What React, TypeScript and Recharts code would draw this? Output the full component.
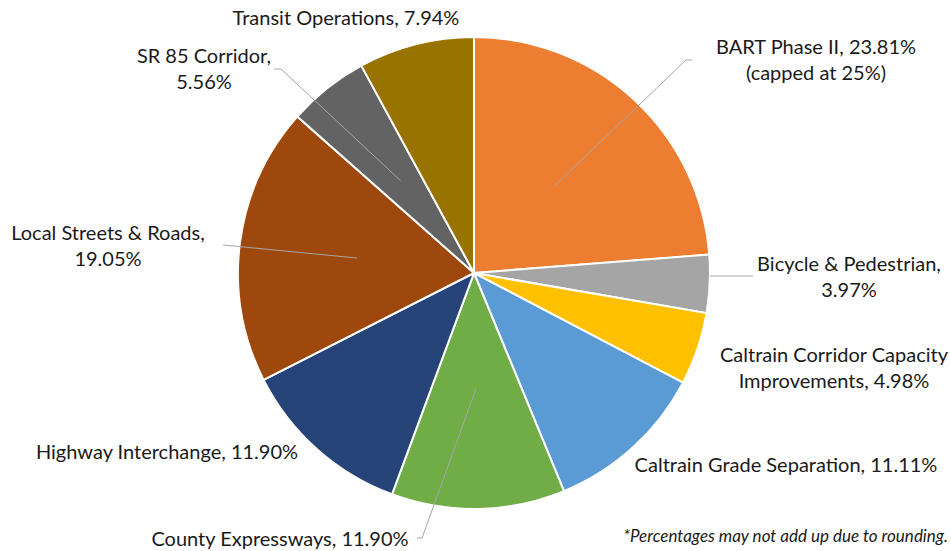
import React from 'react';
import { PieChart, Pie, Cell } from 'recharts';

// program shares (percent), clockwise from 12 o'clock
const CATEGORIES = [
  'BART Phase II',
  'Bicycle & Pedestrian',
  'Caltrain Corridor Capacity Improvements',
  'Caltrain Grade Separation',
  'County Expressways',
  'Highway Interchange',
  'Local Streets & Roads',
  'SR 85 Corridor',
  'Transit Operations',
];
const SHARES = [23.81, 3.97, 4.98, 11.11, 11.9, 11.9, 19.05, 5.56, 7.94];
const LABEL_TEXT = [
  ['BART Phase II, 23.81%', '(capped at 25%)'],
  ['Bicycle & Pedestrian,', '3.97%'],
  ['Caltrain Corridor Capacity', 'Improvements, 4.98%'],
  ['Caltrain Grade Separation, 11.11%'],
  ['County Expressways, 11.90%'],
  ['Highway Interchange, 11.90%'],
  ['Local Streets & Roads,', '19.05%'],
  ['SR 85 Corridor,', '5.56%'],
  ['Transit Operations, 7.94%'],
];
const COLORS = ['#ED7D31', '#A5A5A5', '#FFC000', '#5B9BD5', '#70AD47', '#264478', '#9E480E', '#636363', '#997300'];

const chartData = CATEGORIES.map((name, i) => ({ name, value: SHARES[i] }));

// where each label sits (text centre x, first baseline y) and its leader line, if any
// flat: leader runs level with the label to the pie edge
const LABEL_LAYOUT: Array<{ x: number; y: number; leader?: { r: number; x: number; y: number; stub: number; flat?: boolean } }> = [
  { x: 816, y: 54, leader: { r: 0.5, x: 692, y: 60, stub: -6 } },
  { x: 849, y: 271, leader: { r: 1.0, x: 753, y: 276, stub: 0, flat: true } },
  { x: 834, y: 362 },
  { x: 786, y: 472 },
  { x: 280, y: 546, leader: { r: 0.49, x: 417, y: 538, stub: 5 } },
  { x: 167, y: 459 },
  { x: 108, y: 240, leader: { r: 0.5, x: 223, y: 245, stub: 0 } },
  { x: 204, y: 63, leader: { r: 0.5, x: 274, y: 69, stub: 7 } },
  { x: 346, y: 25 },
];

const RAD = Math.PI / 180;
const FONT = "Lato, 'Noto Sans', sans-serif";

const renderLabel = (props: any) => {
  const { cx, cy, midAngle, outerRadius, index } = props;
  const layout = LABEL_LAYOUT[index];
  const lines = LABEL_TEXT[index];
  let leader = null;
  if (layout.leader) {
    const l = layout.leader;
    const r = outerRadius * l.r;
    let px = cx + r * Math.cos(-midAngle * RAD);
    let py = cy + r * Math.sin(-midAngle * RAD);
    if (l.flat) {
      // meet the arc at the label's height
      py = l.y;
      px = cx + Math.sqrt(Math.max(0, r * r - (py - cy) * (py - cy)));
    }
    leader = (
      <polyline
        points={`${l.x},${l.y} ${l.x + l.stub},${l.y} ${px},${py}`}
        fill="none"
        stroke="#A6A6A6"
        strokeWidth={1}
      />
    );
  }
  return (
    <g key={`lbl-${index}`}>
      {leader}
      <text x={layout.x} y={layout.y} textAnchor="middle" fill="#1a1a1a" fontSize={20} fontFamily={FONT}>
        {lines.map((t, i) => (
          <tspan key={i} x={layout.x} dy={i === 0 ? 0 : 25.5}>{t}</tspan>
        ))}
      </text>
    </g>
  );
};

export default function App() {
  document.body.style.margin = '0';
  return (
    <div style={{ width: 951, height: 551, background: '#fff', position: 'relative' }}>
      <PieChart width={951} height={551} margin={{ top: 0, right: 0, bottom: 0, left: 0 }}>
        <Pie
          data={chartData}
          dataKey="value"
          nameKey="name"
          cx={474}
          cy={273}
          outerRadius={236}
          startAngle={90}
          endAngle={-270}
          stroke="#fff"
          strokeWidth={2}
          label={renderLabel}
          labelLine={false}
          isAnimationActive={false}
        >
          {chartData.map((entry, index) => (
            <Cell key={`cell-${index}`} fill={COLORS[index]} />
          ))}
        </Pie>
      </PieChart>
      <div
        style={{
          position: 'absolute',
          right: 3,
          top: 526,
          fontFamily: FONT,
          fontStyle: 'italic',
          fontSize: 17,
          lineHeight: '20px',
          color: '#1a1a1a',
        }}
      >
        *Percentages may not add up due to rounding.
      </div>
    </div>
  );
}
